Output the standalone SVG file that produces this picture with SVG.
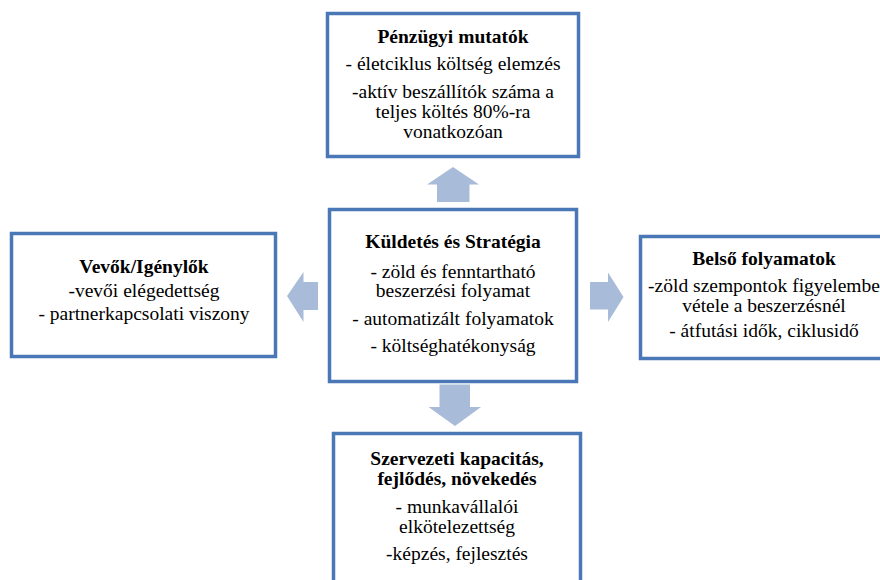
<svg xmlns="http://www.w3.org/2000/svg" width="880" height="580" viewBox="0 0 880 580" font-family="Liberation Serif, Times New Roman, serif" font-size="19.5">
<style>
.box{fill:#fff;stroke:#4a78b6;stroke-width:3.5}
.arr{fill:#a8bcda}
text{fill:#000;text-anchor:middle}
.t{font-weight:bold}
</style>
<rect width="880" height="580" fill="#fff"/>
<g id="connectors">
<polygon class="arr" points="453,167 479,184.5 469.5,184.5 469.5,202 437,202 437,184.5 427,184.5"/>
<polygon class="arr" points="287,296 303.5,272 303.5,282 318,282 318,310 303.5,310 303.5,322"/>
<polygon class="arr" points="623.5,297 608,272.5 608,282 590,282 590,309.5 608,309.5 608,322"/>
<polygon class="arr" points="455,426 481,407 470,407 470,384.5 439.5,384.5 439.5,407 428.5,407"/>
</g>
<g id="penzugyi">
<rect class="box" x="327.5" y="13.5" width="251" height="143"/>
<text class="t" x="453" y="43">Pénzügyi mutatók</text>
<text x="453" y="70">- életciklus költség elemzés</text>
<text x="453" y="98">-aktív beszállítók száma a</text>
<text x="453" y="118">teljes költés 80%-ra</text>
<text x="453" y="138">vonatkozóan</text>
</g>
<g id="vevok">
<rect class="box" x="11.5" y="233.5" width="264" height="123"/>
<text class="t" x="144" y="273">Vevők/Igénylők</text>
<text x="144" y="297">-vevői elégedettség</text>
<text x="144" y="320">- partnerkapcsolati viszony</text>
</g>
<g id="kuldetes">
<rect class="box" x="329.5" y="209.5" width="247" height="172"/>
<text class="t" x="453" y="248">Küldetés és Stratégia</text>
<text x="453" y="278">- zöld és fenntartható</text>
<text x="453" y="297">beszerzési folyamat</text>
<text x="453" y="325">- automatizált folyamatok</text>
<text x="453" y="352">- költséghatékonyság</text>
</g>
<g id="belso">
<rect class="box" x="640.5" y="236.5" width="250" height="122"/>
<text class="t" x="764" y="265">Belső folyamatok</text>
<text x="764" y="292">-zöld szempontok figyelembe</text>
<text x="764" y="312">vétele a beszerzésnél</text>
<text x="764" y="337">- átfutási idők, ciklusidő</text>
</g>
<g id="szervezeti">
<rect class="box" x="333.5" y="433.5" width="247" height="160"/>
<text class="t" x="457" y="465">Szervezeti kapacitás,</text>
<text class="t" x="457" y="485">fejlődés, növekedés</text>
<text x="457" y="513">- munkavállalói</text>
<text x="457" y="533">elkötelezettség</text>
<text x="457" y="560">-képzés, fejlesztés</text>
</g>
</svg>
